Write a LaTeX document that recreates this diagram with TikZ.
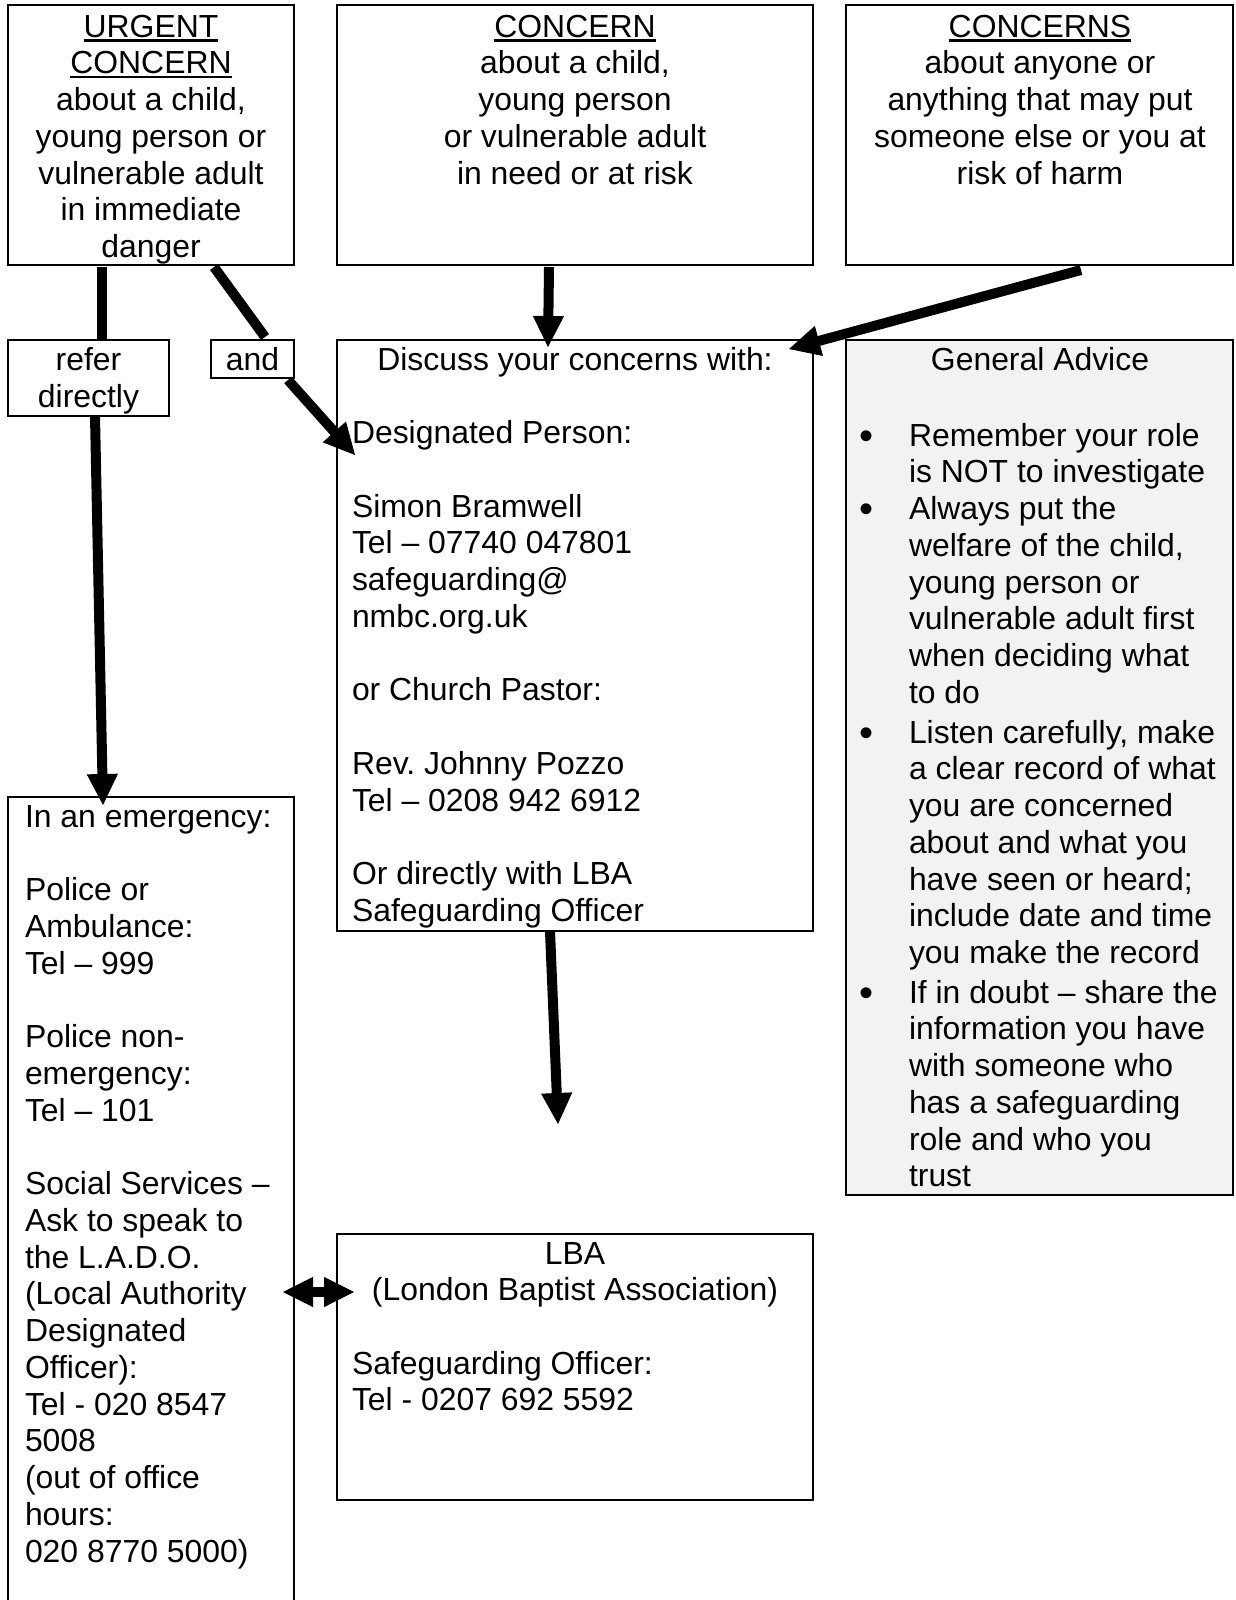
\documentclass[tikz,border=0pt]{standalone}
\usepackage{fontspec}
\setmainfont{Liberation Sans}
\usetikzlibrary{arrows.meta,calc}
\definecolor{genfill}{RGB}{242,242,242}
\newcommand\fst{\rule{0pt}{24pt}}
\newcommand\uln[1]{\setbox0=\hbox{#1}\rlap{\rule[-4.5pt]{\wd0}{2.3pt}}\box0}
\frenchspacing
\begin{document}
\begin{tikzpicture}[x=1pt,y=-1pt,
  box/.style={draw=black,line width=2.2pt,inner sep=0pt,outer sep=0pt,anchor=north west},
  txt/.style={inner sep=0pt,outer sep=0pt,font=\fontsize{31.9pt}{36.75pt}\selectfont\frenchspacing},
  ctxt/.style={txt,align=center,anchor=north},
  ltxt/.style={txt,align=left,anchor=north west},
  bul/.style={inner sep=0pt,outer sep=0pt,anchor=base,font=\fontsize{40pt}{40pt}\selectfont},
  conn/.style={line width=10pt,draw=black},
  tip/.style={-{Triangle[length=31pt,width=31pt,line width=1pt]}},
  dtip/.style={{Triangle[length=30pt,width=30pt,line width=1pt]}-{Triangle[length=30pt,width=30pt,line width=1pt]}}
]
\useasboundingbox (0,0) rectangle (1235,1600);
\clip (0,0) rectangle (1235,1600);

% boxes
\node[box,minimum width=286pt,minimum height=260pt] (b1) at (8,5) {};
\node[box,minimum width=476pt,minimum height=260pt] (b2) at (337,5) {};
\node[box,minimum width=387pt,minimum height=260pt] (b3) at (846,5) {};
\node[box,minimum width=161pt,minimum height=76pt] (refer) at (8,340) {};
\node[box,minimum width=83pt,minimum height=38pt] (andb) at (211,340) {};
\node[box,minimum width=476pt,minimum height=591pt] (disc) at (337,340) {};
\node[box,fill=genfill,minimum width=387pt,minimum height=855pt] (gen) at (846,340) {};
\node[box,minimum width=286pt,minimum height=830pt] (em) at (8,797) {};
\node[box,minimum width=476pt,minimum height=266pt] (lba) at (337,1234) {};

% texts
\node[ctxt] (t1) at (151,13) {\fst\uln{URGENT}\\ \uln{CONCERN}\\ about a child,\\ young person or\\ vulnerable adult\\ in immediate\\ danger};
\node[ctxt] (t2) at (575,13) {\fst\uln{CONCERN}\\ about a child,\\ young person\\ or vulnerable adult\\ in need or at risk};
\node[ctxt] (t3) at (1040,13) {\fst\uln{CONCERNS}\\ about anyone or\\ anything that may put\\ someone else or you at\\ risk of harm};
\node[ctxt] (trefer) at (88.5,346.8) {\fst refer\\ directly};
\node[ctxt] (tand) at (252.5,346.8) {\fst and};
\node[ctxt] (tdisc) at (575,346) {\fst Discuss your concerns with:};
\node[ltxt] (tdisc2) at (352,419.5) {\fst Designated Person:\\[36.75pt] Simon Bramwell\\ Tel – 07740 047801\\ safeguarding@\\ nmbc.org.uk\\[36.75pt] or Church Pastor:\\[36.75pt] Rev. Johnny Pozzo\\ Tel – 0208 942 6912\\[36.75pt] Or directly with LBA\\ Safeguarding Officer};
\node[ctxt] (tgen) at (1040,346) {\fst General Advice};
\node[bul] (g1b) at (866,449) {•};
\node[ltxt] (g1) at (909,422) {\fst Remember your role\\ is NOT to investigate};
\node[bul] (g2b) at (866,522.5) {•};
\node[ltxt] (g2) at (909,495.5) {\fst Always put the\\ welfare of the child,\\ young person or\\ vulnerable adult first\\ when deciding what\\ to do};
\node[bul] (g3b) at (866,746) {•};
\node[ltxt] (g3) at (909,719) {\fst Listen carefully, make\\ a clear record of what\\ you are concerned\\ about and what you\\ have seen or heard;\\ include date and time\\ you make the record};
\node[bul] (g4b) at (866,1006) {•};
\node[ltxt] (g4) at (909,979) {\fst If in doubt – share the\\ information you have\\ with someone who\\ has a safeguarding\\ role and who you\\ trust};
\node[ltxt] (tem) at (25,803) {\fst In an emergency:\\[36.75pt] Police or\\ Ambulance:\\ Tel – 999\\[36.75pt] Police non-\\ emergency:\\ Tel – 101\\[36.75pt] Social Services –\\ Ask to speak to\\ the L.A.D.O.\\ (Local Authority\\ Designated\\ Officer):\\ Tel - 020 8547\\ 5008\\ (out of office\\ hours:\\ 020 8770 5000)};
\node[ctxt] (tlba) at (575,1240) {\fst LBA\\ (London Baptist Association)};
\node[ltxt] (tlba2) at (352,1350) {\fst Safeguarding Officer:\\ Tel - 0207 692 5592};

% connectors
\draw[conn] ($(b1.south west)+(94,2)$) -- ($(refer.north west)+(94,0)$);
\draw[conn] ($(b1.south west)+(206,2)$) -- ($(andb.north west)+(54,-3)$);
\draw[conn,tip] ($(andb.south east)+(-6,2)$) -- ($(disc.north west)+(18,115)$);
\draw[conn,tip] ($(refer.south west)+(87,0)$) -- ($(em.north west)+(95,8)$);
\draw[conn,tip] ($(b2.south west)+(212,2)$) -- ($(disc.north west)+(211,7)$);
\draw[conn,tip] ($(b3.south west)+(235,5)$) -- ($(disc.north east)+(-24,9)$);
\draw[conn,tip] ($(disc.south west)+(213,0)$) -- ($(lba.north west)+(221,-110)$);
\draw[conn,dtip] ($(em.north east)+(-11,495)$) -- ($(lba.north west)+(17,58)$);
\end{tikzpicture}
\end{document}
